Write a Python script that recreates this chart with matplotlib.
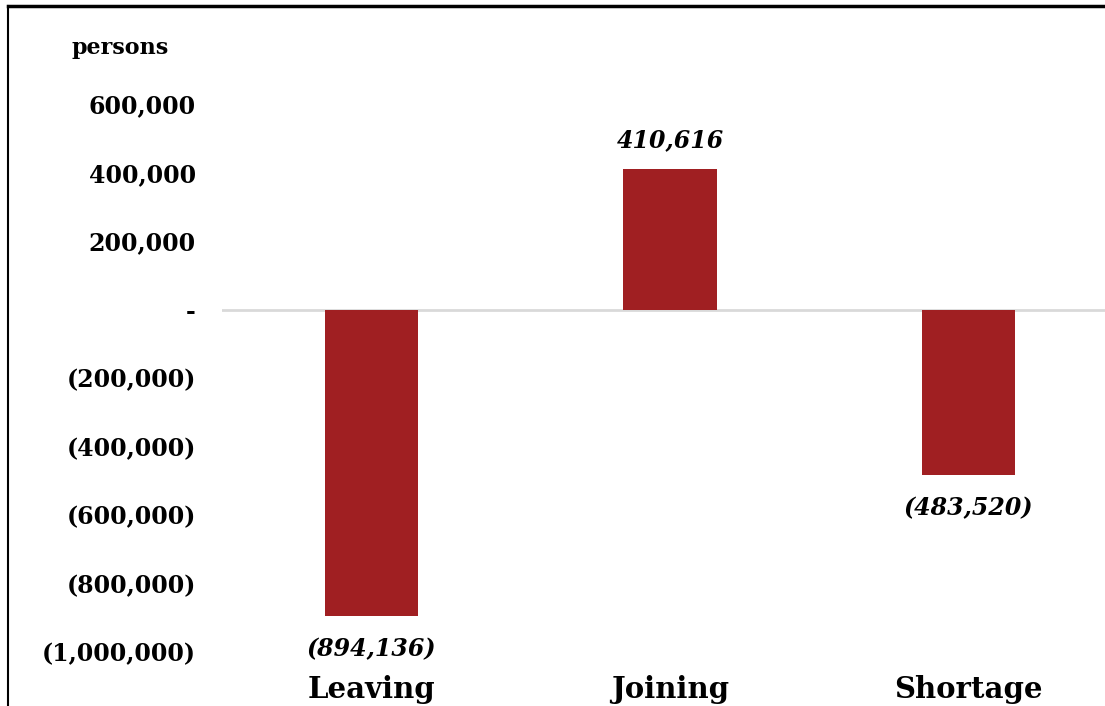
import matplotlib
matplotlib.use("Agg")
import matplotlib.pyplot as plt
import matplotlib.transforms as mtransforms
from matplotlib.lines import Line2D

categories = ["Leaving", "Joining", "Shortage"]
values = [-894136, 410616, -483520]
yticks = [600000, 400000, 200000, 0, -200000, -400000, -600000, -800000, -1000000]

BAR = "#A01F22"


def fmt(v):
    if v == 0:
        return "-"
    s = f"{abs(v):,}"
    return f"({s})" if v < 0 else s


W, H = 1105, 706
fig = plt.figure(figsize=(W / 100, H / 100), dpi=100)

# plot area in pixel terms: x 222..1118, y from 600k at 104 to -1M at 652
left, right = 222.25, 1117.75
top, bottom = 104, 652
ax = fig.add_axes([left / W, 1 - bottom / H, (right - left) / W, (bottom - top) / H])
ax.set_xlim(-0.5, 2.5)
ax.set_ylim(-1000000, 600000)

x = list(range(len(categories)))
ax.bar(x, values, width=0.312, color=BAR, zorder=2)
ax.axhline(0, color="#d9d9d9", lw=2, zorder=1)

for s in ax.spines.values():
    s.set_visible(False)
ax.set_xticks([])
ax.set_yticks(yticks)
ax.set_yticklabels([fmt(v) for v in yticks], family="DejaVu Serif",
                   fontweight="bold", fontsize=17)
ax.tick_params(axis="y", length=0, pad=19)

# value labels
for xi, v in zip(x, values):
    off = 21 if v > 0 else -24
    ax.annotate(fmt(v), (xi, v), xytext=(0, off), textcoords="offset points",
                ha="center", va="center", family="DejaVu Serif",
                fontweight="bold", style="italic", fontsize=17, annotation_clip=False)

# category labels along the bottom edge
cat_tr = mtransforms.blended_transform_factory(ax.transData, fig.transFigure)
for xi, c in zip(x, categories):
    ax.text(xi, 1 - 690 / H, c, transform=cat_tr, ha="center", va="center",
            family="DejaVu Serif", fontweight="bold", fontsize=21, clip_on=False)

fig.text(72 / W, 1 - 48 / H, "persons", family="DejaVu Serif",
         fontweight="bold", fontsize=16, ha="left", va="center")

# frame around the chart
fig.add_artist(Line2D([7.5 / W, 7.5 / W], [0, 1 - 6 / H], transform=fig.transFigure,
                      color="black", lw=1.5))
fig.add_artist(Line2D([7.5 / W, 1], [1 - 6 / H, 1 - 6 / H], transform=fig.transFigure,
                      color="black", lw=2.5))

fig.savefig("out.png", dpi=100)
